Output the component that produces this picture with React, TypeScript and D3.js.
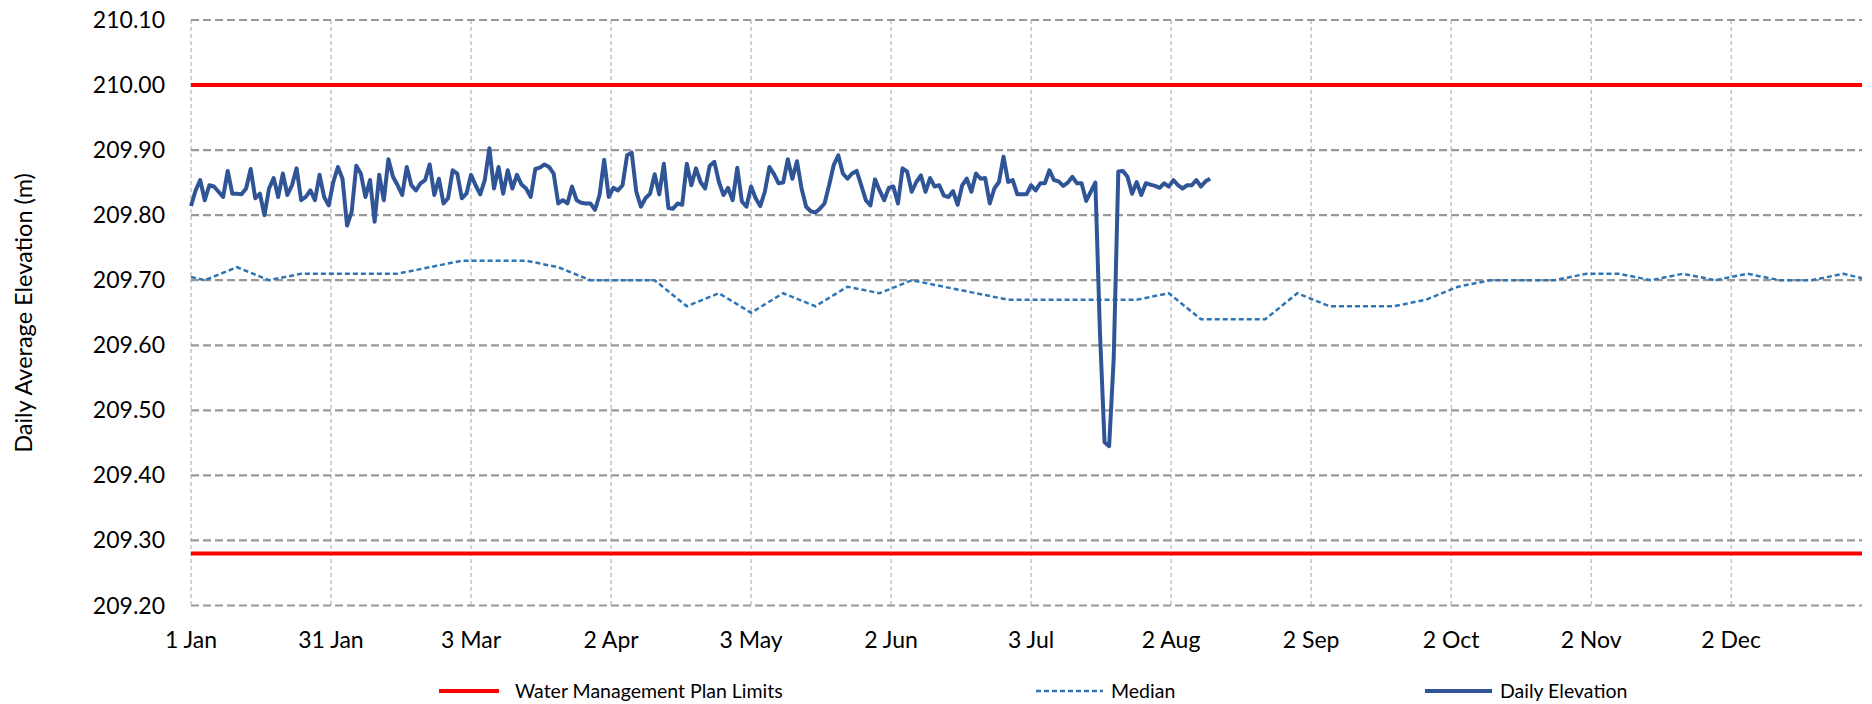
import React from 'react';
import * as d3 from 'd3';

// daily average elevation (m), one value per day starting 1 Jan
const dailyElevation = [
  209.814, 209.838, 209.854, 209.823, 209.846, 209.844, 209.836, 209.828, 209.868, 209.833,
  209.833, 209.832, 209.841, 209.871, 209.826, 209.833, 209.800, 209.841, 209.857, 209.828,
  209.864, 209.831, 209.846, 209.872, 209.823, 209.828, 209.838, 209.823, 209.862, 209.828,
  209.815, 209.851, 209.874, 209.856, 209.784, 209.805, 209.876, 209.864, 209.828, 209.854,
  209.790, 209.862, 209.823, 209.886, 209.859, 209.846, 209.831, 209.874, 209.846, 209.838,
  209.849, 209.854, 209.878, 209.831, 209.856, 209.818, 209.826,
  209.869, 209.864, 209.826, 209.833, 209.862, 209.846, 209.832, 209.854, 209.903, 209.841,
  209.874, 209.833, 209.869, 209.841, 209.862, 209.847, 209.841, 209.828, 209.871, 209.873,
  209.878, 209.874, 209.864, 209.818, 209.823, 209.818, 209.844, 209.823, 209.819, 209.818,
  209.818, 209.808, 209.831, 209.885, 209.828, 209.842, 209.838, 209.846, 209.892, 209.896,
  209.836, 209.813, 209.826, 209.833, 209.863, 209.832, 209.879, 209.811, 209.810, 209.818,
  209.816, 209.879, 209.846, 209.872, 209.851, 209.841, 209.876,
  209.882, 209.851, 209.831, 209.842, 209.823, 209.873, 209.821, 209.813, 209.844, 209.826,
  209.814, 209.836, 209.874, 209.863, 209.849, 209.850, 209.886, 209.856, 209.883, 209.841,
  209.813, 209.806, 209.804, 209.810, 209.818, 209.846, 209.877, 209.892, 209.864, 209.856,
  209.864, 209.868, 209.846, 209.823, 209.815, 209.855, 209.838, 209.823, 209.842, 209.844,
  209.818, 209.872, 209.867, 209.836, 209.851, 209.861, 209.836, 209.857, 209.844, 209.846,
  209.830, 209.828, 209.837, 209.816, 209.846, 209.856, 209.836,
  209.864, 209.856, 209.857, 209.818, 209.841, 209.851, 209.890, 209.851, 209.854, 209.832,
  209.832, 209.832, 209.846, 209.838, 209.849, 209.849, 209.869, 209.854, 209.852, 209.845,
  209.850, 209.859, 209.849, 209.849, 209.822, 209.836, 209.850,
  209.620, 209.451, 209.445, 209.580,
  209.867, 209.868, 209.859, 209.833, 209.851, 209.831, 209.849, 209.847, 209.845, 209.842,
  209.849, 209.844, 209.854, 209.846, 209.841, 209.846, 209.846, 209.854, 209.844, 209.852,
  209.856,
];

// weekly median (day of year, value)
const medianDays = [
  0, 3, 10, 17, 24, 31, 38, 45, 52, 59, 66, 73, 80, 87, 94, 101, 108, 115, 122, 129, 136, 143,
  150, 157, 164, 171, 178, 185, 192, 199, 206, 213, 220, 227, 234, 241, 248, 255, 262, 269, 276,
  283, 290, 297, 304, 311, 318, 325, 332, 339, 346, 353, 360, 364,
];
const medianValues = [
  209.705, 209.70, 209.72, 209.70, 209.71, 209.71, 209.71, 209.71, 209.72, 209.73, 209.73, 209.73,
  209.72, 209.70, 209.70, 209.70, 209.66, 209.68, 209.65, 209.68, 209.66, 209.69, 209.68, 209.70,
  209.69, 209.68, 209.67, 209.67, 209.67, 209.67, 209.67, 209.68, 209.64, 209.64, 209.64, 209.68,
  209.66, 209.66, 209.66, 209.67, 209.69, 209.70, 209.70, 209.70, 209.71, 209.71, 209.70, 209.71,
  209.70, 209.71, 209.70, 209.70, 209.71, 209.703,
];

const limits = [210.0, 209.28];

const yTicks = [209.2, 209.3, 209.4, 209.5, 209.6, 209.7, 209.8, 209.9, 210.0, 210.1];
const xTickDays = [0, 30.5, 61, 91.5, 122, 152.5, 183, 213.5, 244, 274.5, 305, 335.5];
const xTickLabels = ['1 Jan', '31 Jan', '3 Mar', '2 Apr', '3 May', '2 Jun', '3 Jul', '2 Aug', '2 Sep', '2 Oct', '2 Nov', '2 Dec'];

const W = 1872;
const H = 704;
const font = 'Lato, "Open Sans", sans-serif';

export default function App() {
  const x = d3.scaleLinear().domain([0, 364]).range([191, 1862]);
  const y = d3.scaleLinear().domain([209.2, 210.1]).range([605.5, 20]);

  const line = d3.line<[number, number]>()
    .x(d => x(d[0]))
    .y(d => y(d[1]));

  const dailyPath = line(dailyElevation.map((v, i) => [i, v] as [number, number]));
  const medianPath = line(medianDays.map((d, i) => [d, medianValues[i]] as [number, number]));

  const [x0, x1] = x.range();
  const [yb, yt] = y.range();

  return (
    <svg width={W} height={H} style={{ position: 'absolute', left: 0, top: 0, background: '#fff' }} fontFamily={font}>
      {/* vertical gridlines */}
      {xTickDays.map((d, i) => (
        <line key={'vx' + i} x1={x(d)} x2={x(d)} y1={yt} y2={yb}
          stroke="#a6a6a6" strokeWidth={1} strokeDasharray="4,3" />
      ))}
      {/* horizontal gridlines */}
      {yTicks.map((t, i) => (
        <line key={'hy' + i} x1={x0} x2={x1} y1={y(t)} y2={y(t)}
          stroke="#999" strokeWidth={2.2} strokeDasharray="8,4" />
      ))}

      {/* limits */}
      {limits.map((v, i) => (
        <line key={'lim' + i} x1={x0} x2={x1} y1={y(v)} y2={y(v)} stroke="#ff0000" strokeWidth={4} />
      ))}

      <path d={medianPath || ''} fill="none" stroke="#2e75b6" strokeWidth={2.5} strokeDasharray="5,3" />
      <path d={dailyPath || ''} fill="none" stroke="#2f5597" strokeWidth={4} strokeLinejoin="round" />

      {/* y tick labels */}
      {yTicks.map((t, i) => (
        <text key={'yl' + i} x={165} y={y(t)} dy="0.35em" textAnchor="end" fontSize={23} fill="#000">
          {d3.format('.2f')(t)}
        </text>
      ))}
      {/* x tick labels */}
      {xTickDays.map((d, i) => (
        <text key={'xl' + i} x={x(d)} y={648} textAnchor="middle" fontSize={23} fill="#000">
          {xTickLabels[i]}
        </text>
      ))}

      <text transform={`translate(24, 313) rotate(-90)`} textAnchor="middle" dy="0.35em" fontSize={23.5} fill="#000">
        Daily Average Elevation (m)
      </text>

      {/* legend */}
      <g fontSize={19.5} fill="#000">
        <line x1={439} x2={499} y1={691} y2={691} stroke="#ff0000" strokeWidth={4} />
        <text x={515} y={691} dy="0.35em">Water Management Plan Limits</text>
        <line x1={1036} x2={1103} y1={691} y2={691} stroke="#2e75b6" strokeWidth={2.5} strokeDasharray="5,3" />
        <text x={1111} y={691} dy="0.35em">Median</text>
        <line x1={1425} x2={1492} y1={691} y2={691} stroke="#2f5597" strokeWidth={4} />
        <text x={1500} y={691} dy="0.35em">Daily Elevation</text>
      </g>
    </svg>
  );
}
